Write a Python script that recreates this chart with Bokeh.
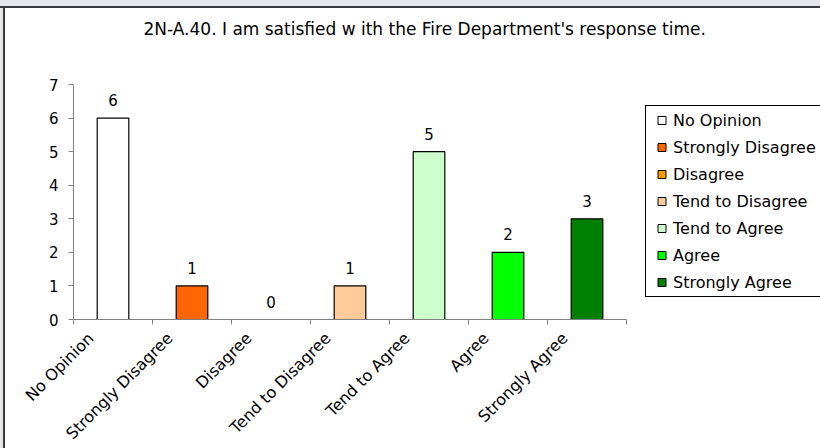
import numpy as np
from math import pi
from bokeh.plotting import figure
from bokeh.models import (ColumnDataSource, Range1d, FixedTicker, Legend, LegendItem, Title)
from bokeh.core.properties import value
from bokeh.embed import file_html
from bokeh.resources import INLINE

title_text = "2N-A.40.  I am satisfied w ith the Fire Department's response time."
categories = ["No Opinion", "Strongly Disagree", "Disagree", "Tend to Disagree",
              "Tend to Agree", "Agree", "Strongly Agree"]
counts = [6, 1, 0, 1, 5, 2, 3]
colors = ["#FFFFFF", "#FF6600", "#FF9900", "#FFCC99", "#CCFFCC", "#00FF00", "#008000"]
y_ticks = [0, 1, 2, 3, 4, 5, 6, 7]

FONT = "DejaVu Sans"
FL, FT, FW, FH = 68, 76, 553, 235
n = len(categories)
xs = np.arange(n) + 0.5
label_pos = xs - 0.28

p = figure(frame_width=FW, frame_height=FH, output_backend="svg", toolbar_location=None,
           x_range=Range1d(0, n), y_range=Range1d(0, y_ticks[-1]),
           min_border_left=FL, min_border_right=220,
           min_border_top=FT, min_border_bottom=129)
p.outline_line_color = None
p.xgrid.visible = False
p.ygrid.visible = False
p.background_fill_color = "white"
p.border_fill_color = "white"

try:
    from bokeh.models import GlobalInlineStyleSheet
    p.stylesheets = [GlobalInlineStyleSheet(css=(
        "body{padding:8px 0 0 5px !important;overflow:hidden;"
        "background-color:#ffffff;"
        "background-image:linear-gradient(#e4e7ea 0 6px,#3a3a3a 6px 8px,transparent 8px),"
        "linear-gradient(to right,#e4e7ea 0 3px,#3a3a3a 3px 5px,transparent 5px);"
        "background-repeat:no-repeat;background-size:100% 100%;}"))]
except Exception:
    pass

src = ColumnDataSource(dict(x=xs, count=counts, color=colors,
                            label=[str(c) for c in counts],
                            nan=[np.nan] * n))

p.vbar(x="x", top="count", width=0.4, source=src, fill_color="color",
       line_color="black", line_width=1.2)

p.text(x="x", y="count", text="label", source=src, text_align="center",
       text_baseline="middle", y_offset=-18, text_font=value(FONT),
       text_font_size="15px", text_color="black")

proxy = p.scatter(x="x", y="nan", source=src, marker="square", size=8,
                  fill_color="color", line_color="black", line_width=1)

items = [LegendItem(label=c, renderers=[proxy], index=i) for i, c in enumerate(categories)]
legend = Legend(items=items, location=(19, 22), padding=4, spacing=7,
                label_height=20, glyph_height=20, glyph_width=23, label_standoff=0,
                label_text_font=FONT, label_text_font_size="16px",
                label_text_color="black",
                border_line_color="black", border_line_width=1, border_line_alpha=1.0,
                background_fill_color="white", background_fill_alpha=1.0, margin=0)
p.add_layout(legend, "right")

xa = p.xaxis[0]
xa.ticker = FixedTicker(ticks=list(label_pos), minor_ticks=list(range(n + 1)))
xa.major_label_overrides = {float(x): c for x, c in zip(label_pos, categories)}
xa.major_label_orientation = pi / 4
xa.major_tick_out = 0
xa.major_tick_in = 0
xa.minor_tick_out = 5
xa.minor_tick_in = 0
xa.axis_line_color = "#808080"
xa.minor_tick_line_color = "#808080"
xa.major_label_text_font = FONT
xa.major_label_text_font_size = "16px"
xa.major_label_text_color = "black"
xa.major_label_standoff = 11

ya = p.yaxis[0]
ya.ticker = FixedTicker(ticks=y_ticks, minor_ticks=[])
ya.major_tick_out = 5
ya.major_tick_in = 0
ya.axis_line_color = "#808080"
ya.major_tick_line_color = "#808080"
ya.major_label_text_font = FONT
ya.major_label_text_font_size = "15px"
ya.major_label_text_color = "black"
ya.major_label_standoff = 10

# spacer panel between the frame and the title (closest to the frame)
spacer = Title(text=" ", standoff=24, text_font=FONT, text_font_size="17px")
p.add_layout(spacer, "above")
title = Title(text=title_text, align="left", offset=70, standoff=0,
              text_font=FONT, text_font_size="17px", text_font_style="normal",
              text_color="black")
p.add_layout(title, "above")

open("out.html", "w").write(file_html(p, INLINE))
